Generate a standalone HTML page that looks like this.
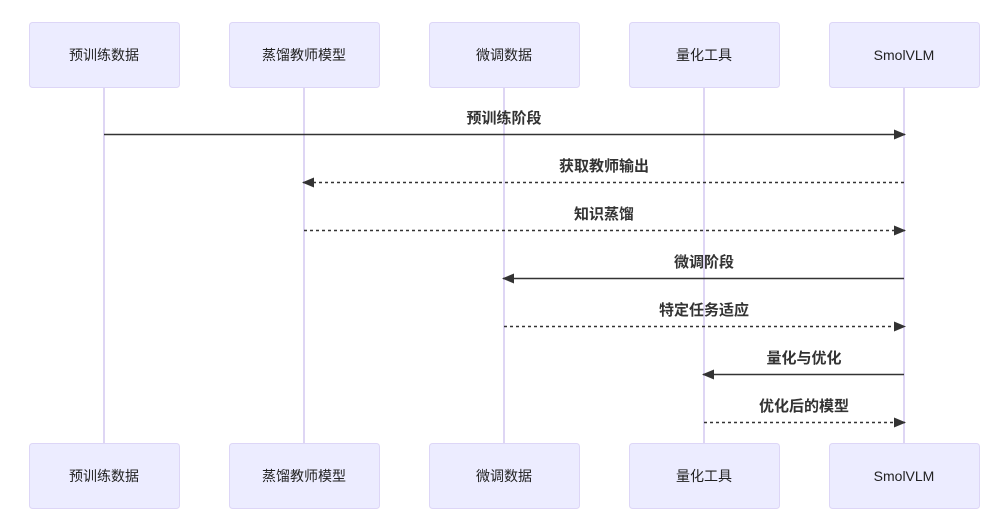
<!DOCTYPE html>
<html><head><meta charset="utf-8"><style>
html,body{margin:0;padding:0;background:#fff;}
svg text{font-family:"Liberation Sans","Noto Sans CJK SC",sans-serif;}
</style></head><body>
<svg width="999" height="516" viewBox="0 0 999 516" xmlns="http://www.w3.org/2000/svg">
<defs>
<marker id="a" markerWidth="12" markerHeight="12" refX="11" refY="6" orient="auto" markerUnits="userSpaceOnUse">
<path d="M0,1 L12,6 L0,11 Z" fill="#333"/></marker>
</defs>
<g stroke="#d3c9f0" stroke-width="1.5">
<line x1="104" y1="87" x2="104" y2="443"/>
<line x1="304" y1="87" x2="304" y2="443"/>
<line x1="504" y1="87" x2="504" y2="443"/>
<line x1="704" y1="87" x2="704" y2="443"/>
<line x1="904" y1="87" x2="904" y2="443"/>
</g>
<g fill="#ececff" stroke="#ddd6f7" stroke-width="1">
<rect x="29.5" y="22.5" width="150" height="65" rx="3"/>
<rect x="229.5" y="22.5" width="150" height="65" rx="3"/>
<rect x="429.5" y="22.5" width="150" height="65" rx="3"/>
<rect x="629.5" y="22.5" width="150" height="65" rx="3"/>
<rect x="829.5" y="22.5" width="150" height="65" rx="3"/>
<rect x="29.5" y="443.5" width="150" height="65" rx="3"/>
<rect x="229.5" y="443.5" width="150" height="65" rx="3"/>
<rect x="429.5" y="443.5" width="150" height="65" rx="3"/>
<rect x="629.5" y="443.5" width="150" height="65" rx="3"/>
<rect x="829.5" y="443.5" width="150" height="65" rx="3"/>
</g>
<g font-size="14" fill="#222" text-anchor="middle">
<text x="104" y="60">预训练数据</text><text x="304" y="60">蒸馏教师模型</text><text x="504" y="60">微调数据</text><text x="704" y="60">量化工具</text><text x="904" y="60">SmolVLM</text>
<text x="104" y="481">预训练数据</text><text x="304" y="481">蒸馏教师模型</text><text x="504" y="481">微调数据</text><text x="704" y="481">量化工具</text><text x="904" y="481">SmolVLM</text>
</g>
<g stroke="#333" stroke-width="1.5" fill="none" marker-end="url(#a)">
<line x1="104" y1="134.5" x2="905" y2="134.5"/>
<line x1="904" y1="182.5" x2="303" y2="182.5" stroke-dasharray="3,3"/>
<line x1="304" y1="230.5" x2="905" y2="230.5" stroke-dasharray="3,3"/>
<line x1="904" y1="278.5" x2="503" y2="278.5"/>
<line x1="504" y1="326.5" x2="905" y2="326.5" stroke-dasharray="3,3"/>
<line x1="904" y1="374.5" x2="703" y2="374.5"/>
<line x1="704" y1="422.5" x2="905" y2="422.5" stroke-dasharray="3,3"/>
</g>
<g font-size="15" font-weight="bold" fill="#333" text-anchor="middle">
<text x="504" y="123">预训练阶段</text>
<text x="604" y="171">获取教师输出</text>
<text x="604" y="219">知识蒸馏</text>
<text x="704" y="267">微调阶段</text>
<text x="704" y="315">特定任务适应</text>
<text x="804" y="363">量化与优化</text>
<text x="804" y="411">优化后的模型</text>
</g>
</svg>
</body></html>
